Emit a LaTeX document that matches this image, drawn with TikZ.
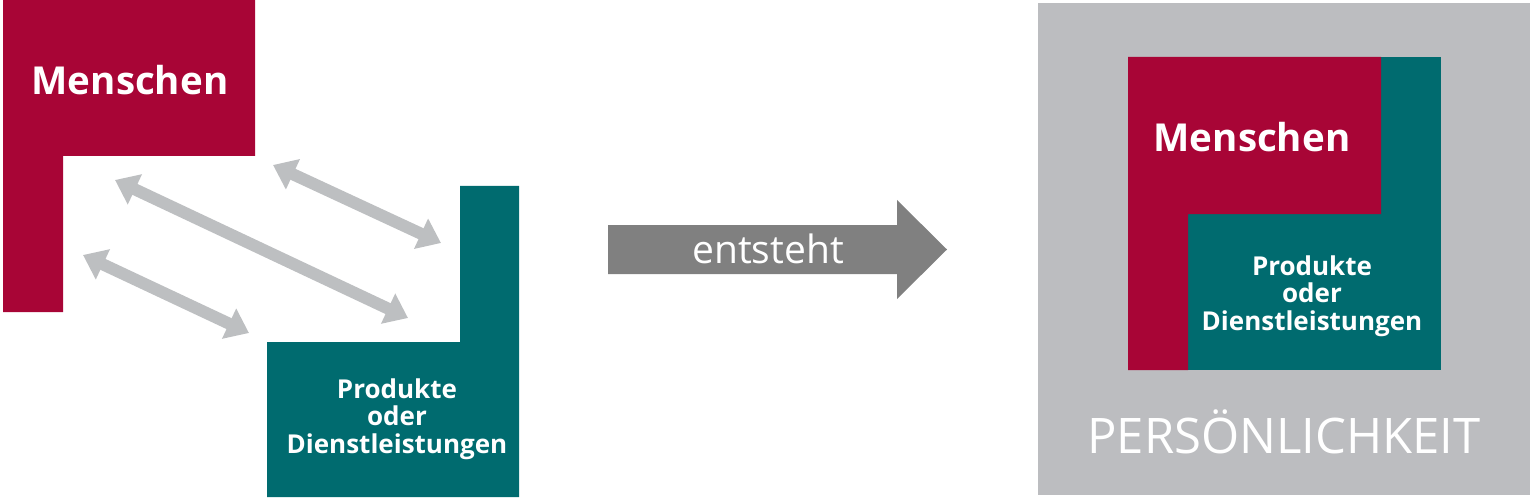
\documentclass[tikz,border=0pt]{standalone}
\usepackage{fontspec}
\setmainfont{Open Sans}
\usetikzlibrary{arrows.meta}

\definecolor{rot}{HTML}{A80536}
\definecolor{tuerkis}{HTML}{006B6F}
\definecolor{hellgrau}{HTML}{BCBDC0}
\definecolor{pfeilgrau}{HTML}{BDBFC1}
\definecolor{dunkelgrau}{HTML}{808080}

\begin{document}
\begin{tikzpicture}[x=1pt, y=-1pt,
        titel/.style = {text=white, inner sep=0pt, font=\bfseries\fontsize{38.5}{46}\selectfont},
        untertitel/.style = {text=white, inner sep=0pt, align=center, font=\bfseries\fontsize{26}{27.5}\selectfont},
        doppelpfeil/.style = {draw=pfeilgrau, line width=12pt,
            {Triangle[length=22pt, width=32pt]}-{Triangle[length=22pt, width=32pt]}}]
                \useasboundingbox (0,0) rectangle (1535,500);

                % Links: Menschen
                \fill[rot] (3,0) -- (255,0) -- (255,156) -- (63,156) -- (63,312) -- (3,312) -- cycle;
                \node[titel, anchor=base] (menschenL) at (130,95) {Menschen};

                % Links: Produkte oder Dienstleistungen
                \fill[tuerkis] (460,186) -- (519,186) -- (519,497) -- (267,497) -- (267,342) -- (460,342) -- cycle;
                \node[untertitel] (produkteL) at (397,419) {Produkte\\oder\\Dienstleistungen};

                % Wechselwirkungen:
                \coordinate (a1) at (273,165);
                \coordinate (b1) at (441,243);
                \coordinate (a2) at (115,180);
                \coordinate (b2) at (408,318);
                \coordinate (a3) at (83,255);
                \coordinate (b3) at (249,333);
                \foreach \von/\nach in {a1/b1, a2/b2, a3/b3}
                    \draw[doppelpfeil] (\von) -- (\nach);

                % Pfeil in der Mitte:
                \fill[dunkelgrau] (608,225) -- (897,225) -- (897,200) -- (947,249.5) -- (897,299) -- (897,274) -- (608,274) -- cycle;
                \node[text=white, inner sep=0pt, font=\fontsize{39}{46}\selectfont, anchor=base] (entsteht) at (768,263) {entsteht};

                % Rechts: Persoenlichkeit
                \fill[hellgrau] (1038,3) rectangle (1530,495);
                \fill[tuerkis] (1128,57) rectangle (1441,370);
                \fill[rot] (1128,57) -- (1381,57) -- (1381,214) -- (1188,214) -- (1188,370) -- (1128,370) -- cycle;
                \node[titel, anchor=base] (menschenR) at (1252,152) {Menschen};
                \node[untertitel] (produkteR) at (1312,296) {Produkte\\oder\\Dienstleistungen};
                \node[text=white, inner sep=0pt, font=\fontsize{49}{58}\selectfont, anchor=base] (persoenlichkeit) at (1284,453) {PERSÖNLICHKEIT};
            \end{tikzpicture}
\end{document}
